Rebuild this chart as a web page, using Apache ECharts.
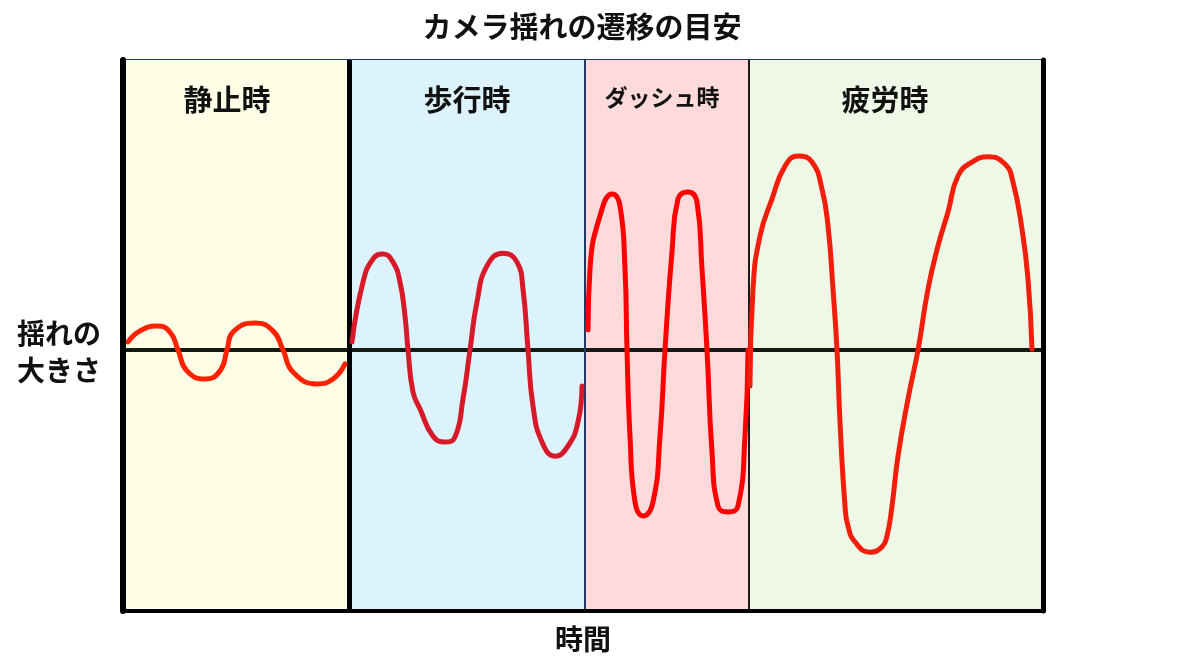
<!DOCTYPE html>
<html>
<head>
<meta charset="utf-8">
<script src="https://cdn.jsdelivr.net/npm/echarts@6/dist/echarts.min.js"></script>
<style>html,body{margin:0;padding:0;background:#fff;}#c{width:1195px;height:671px;}</style>
</head>
<body>
<div id="c"></div>
<script>
const titleText = 'カメラ揺れの遷移の目安';
const yName = '揺れの\n大きさ';
const xName = '時間';
const phases = ['静止時', '歩行時', 'ダッシュ時', '疲労時'];
const phaseBounds = [0, 22.6, 46.2, 62.6, 92];
const phaseColors = ['#fefee6', '#dcf3fc', '#ffdada', '#eff8e6'];

const stillWave = [[0.5,0.28],[1.7,0.66],[3.4,0.83],[4.7,0.62],[5.5,0],[6.4,-0.72],[8.2,-1.0],[9.7,-0.72],[10.4,0],[11.0,0.62],[13.2,0.93],[15.0,0.66],[16.0,0],[17.0,-0.76],[19.4,-1.17],[21.0,-1.0],[22.2,-0.48]];
const walkWave = [[22.9,0.28],[24.0,2.34],[25.0,3.14],[26.0,3.31],[27.0,3.03],[27.7,2.34],[28.2,1.17],[28.5,0],[29.0,-1.45],[29.7,-2.03],[31.0,-2.97],[32.2,-3.17],[33.2,-3.0],[34.0,-1.69],[34.7,0],[35.4,1.66],[36.4,2.9],[38.0,3.34],[39.4,3.03],[40.0,2.1],[40.5,0],[41.0,-1.93],[41.9,-3.17],[43.2,-3.66],[44.5,-3.31],[45.5,-2.48],[45.9,-1.24]];
const dashWave = [[46.5,0.7],[46.7,2.79],[47.9,4.86],[48.9,5.38],[49.7,4.97],[50.2,2.79],[50.4,0],[50.7,-2.97],[51.2,-5.24],[52.0,-5.72],[53.0,-5.24],[53.7,-2.97],[54.2,0],[54.9,3.38],[55.5,5.21],[56.5,5.45],[57.4,5.1],[57.9,2.79],[58.4,0],[58.9,-3.52],[59.5,-5.38],[60.5,-5.59],[61.5,-5.38],[62.2,-2.97],[62.5,0]];
const tiredWave = [[62.7,-1.24],[63.0,2.1],[63.7,3.93],[64.9,5.21],[66.2,6.34],[67.5,6.69],[68.9,6.48],[69.9,5.55],[70.5,4.28],[71.0,2.1],[71.4,0],[71.7,-2.48],[72.2,-5.38],[72.5,-6.07],[73.2,-6.62],[74.7,-6.97],[75.9,-6.79],[76.4,-6.41],[76.9,-5.38],[77.5,-3.66],[78.5,-1.69],[79.5,0],[80.5,2.1],[81.5,3.59],[82.5,4.76],[83.5,6.0],[84.9,6.48],[86.5,6.66],[88.2,6.41],[89.0,5.79],[89.9,4.17],[90.5,2.45],[90.9,0.03]];

const font = '"Noto Sans CJK JP", "Noto Sans", sans-serif';
const chart = echarts.init(document.getElementById('c'));

const labelOffsets = [[-9,0],[0,0],[-5,0],[-11,0]];
const labelSizes = [29, 29, 23, 29];
const labelDist = [25, 25, 26, 25];
const areaData = phases.map((p, i) => [
  { name: p, xAxis: phaseBounds[i], itemStyle: { color: phaseColors[i] },
    label: { show: true, position: 'insideTop', distance: labelDist[i], offset: labelOffsets[i],
      fontSize: labelSizes[i], fontWeight: 'bold', color: '#111', fontFamily: font } },
  { xAxis: phaseBounds[i + 1] }
]);

function waveSeries(data, color) {
  return { type: 'line', data: data, smooth: 0.5, showSymbol: false, symbol: 'none', z: 5,
    lineStyle: { color: color, width: 5, cap: 'round', join: 'round' }, silent: true };
}

chart.setOption({
  animation: false,
  backgroundColor: '#ffffff',
  title: [
    { text: titleText, left: 582, top: 12, textAlign: 'center', padding: 0,
      textStyle: { fontSize: 29, fontWeight: 'bold', color: '#111', fontFamily: font } },
    { text: yName, left: 59, top: 315, textAlign: 'center', padding: 0,
      textStyle: { fontSize: 28, fontWeight: 'bold', color: '#111', lineHeight: 37, fontFamily: font } }
  ],
  grid: { left: 123, right: 152, top: 60, bottom: 60, show: true, borderColor: '#1f3864', borderWidth: 2, backgroundColor: 'transparent' },
  xAxis: { type: 'value', min: 0, max: 92, name: xName, nameLocation: 'middle', nameGap: 14, z: 10,
    nameTextStyle: { fontSize: 28, fontWeight: 'bold', color: '#111', fontFamily: font },
    axisLine: { show: true, onZero: false, lineStyle: { color: '#000', width: 4 } },
    axisTick: { show: false }, axisLabel: { show: false }, splitLine: { show: false } },
  yAxis: [
    { type: 'value', min: -9, max: 10, position: 'left', z: 10,
      axisLine: { show: true, onZero: false, lineStyle: { color: '#000', width: 6 } },
      axisTick: { show: false }, axisLabel: { show: false }, splitLine: { show: false } },
    { type: 'value', min: -9, max: 10, position: 'right', z: 10,
      axisLine: { show: true, onZero: false, lineStyle: { color: '#000', width: 5 } },
      axisTick: { show: false }, axisLabel: { show: false }, splitLine: { show: false } }
  ],
  series: [
    { type: 'line', data: [], z: 1, silent: true,
      markArea: { silent: true, itemStyle: { borderWidth: 0 }, data: areaData },
      markLine: { silent: true, symbol: 'none', label: { show: false },
        data: [
          { yAxis: 0, lineStyle: { color: '#151a14', width: 4, type: 'solid' } },
          { xAxis: phaseBounds[1], lineStyle: { color: '#000', width: 5, type: 'solid' } },
          { xAxis: phaseBounds[2], lineStyle: { color: '#1f3864', width: 2, type: 'solid' } },
          { xAxis: phaseBounds[3], lineStyle: { color: '#1a1a1a', width: 2, type: 'solid' } }
        ] } },
    waveSeries(stillWave, '#ff2200'),
    waveSeries(walkWave, '#d71a2a'),
    waveSeries(dashWave, '#ff0000'),
    waveSeries(tiredWave, '#f01e0a')
  ]
});
</script>
</body>
</html>
